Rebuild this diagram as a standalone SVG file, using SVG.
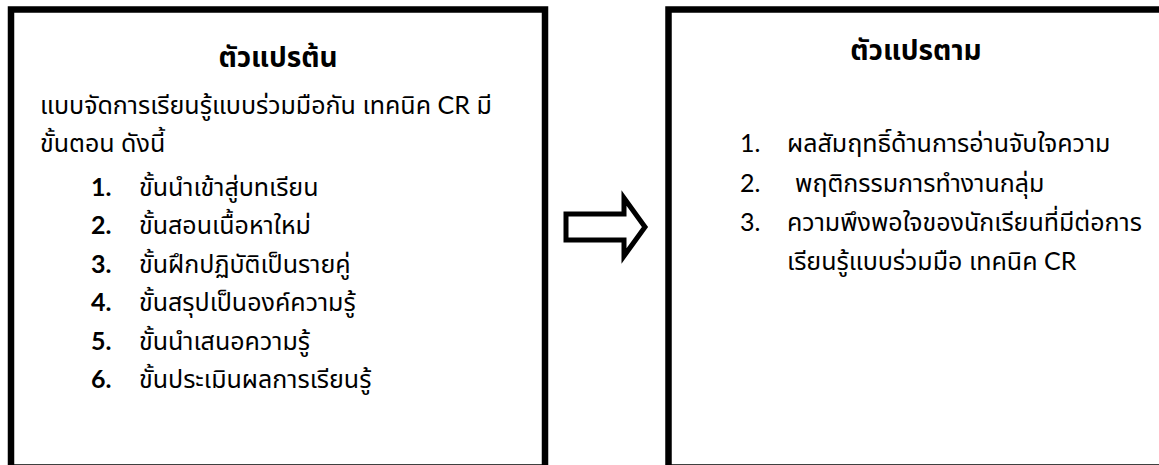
<svg xmlns="http://www.w3.org/2000/svg" width="1159" height="465" viewBox="0 0 1159 465">
<style>
.box{fill:#fff;stroke:#000;stroke-width:6.5}
.th{font-family:"Noto Sans Thai","Leelawadee UI",Tahoma,"DejaVu Sans",sans-serif;font-size:25px;fill:#000}
.title{font-size:28px;font-weight:bold}
.num{font-family:Lato,"Liberation Sans",sans-serif;font-size:25px;fill:#000}
.b{font-weight:bold}
</style>
<rect width="1159" height="465" fill="#fff"/>
<g id="independent">
<rect class="box" x="11" y="9.5" width="534" height="458"/>
<text class="th title" x="278" y="67" text-anchor="middle">ตัวแปรต้น</text>
<text class="th" x="40" y="114">แบบจัดการเรียนรู้แบบร่วมมือกัน เทคนิค <tspan class="num">CR</tspan> มี</text>
<text class="th" x="40" y="152">ขั้นตอน ดังนี้</text>
<text class="num b" x="91" y="196">1.</text><text class="th" x="139" y="196">ขั้นนำเข้าสู่บทเรียน</text>
<text class="num b" x="91" y="234">2.</text><text class="th" x="139" y="234">ขั้นสอนเนื้อหาใหม่</text>
<text class="num b" x="91" y="273">3.</text><text class="th" x="139" y="273">ขั้นฝึกปฏิบัติเป็นรายคู่</text>
<text class="num b" x="91" y="311">4.</text><text class="th" x="139" y="311">ขั้นสรุปเป็นองค์ความรู้</text>
<text class="num b" x="91" y="350">5.</text><text class="th" x="139" y="350">ขั้นนำเสนอความรู้</text>
<text class="num b" x="91" y="388">6.</text><text class="th" x="139" y="388">ขั้นประเมินผลการเรียนรู้</text>
</g>
<g id="connectors">
<polygon points="566,214 624,214 624,198 645,227 624,256 624,240 566,240" fill="#fff" stroke="#000" stroke-width="5" stroke-miterlimit="10"/>
</g>
<g id="dependent">
<rect class="box" x="668.5" y="9.5" width="500" height="458"/>
<text class="th title" x="916" y="60" text-anchor="middle">ตัวแปรตาม</text>
<text class="num" x="740" y="152">1.</text><text class="th" x="787" y="152">ผลสัมฤทธิ์ด้านการอ่านจับใจความ</text>
<text class="num" x="740" y="192">2.</text><text class="th" x="795" y="192">พฤติกรรมการทำงานกลุ่ม</text>
<text class="num" x="740" y="231">3.</text><text class="th" x="787" y="231">ความพึงพอใจของนักเรียนที่มีต่อการ</text>
<text class="th" x="787" y="270">เรียนรู้แบบร่วมมือ เทคนิค <tspan class="num">CR</tspan></text>
</g>
</svg>
